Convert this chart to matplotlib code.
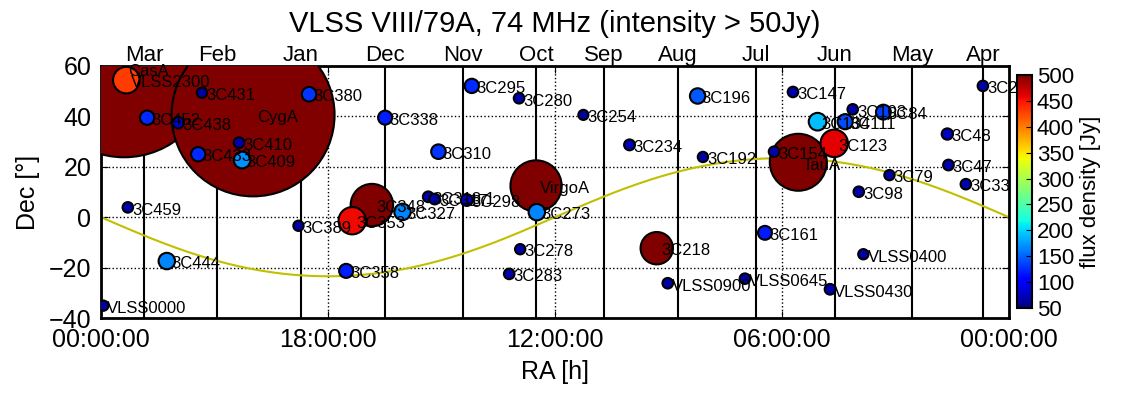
import numpy as np
import matplotlib
matplotlib.use('Agg')
import matplotlib.pyplot as plt
import matplotlib.transforms as mtransforms

plt.rcParams['font.family'] = ['Liberation Sans', 'DejaVu Sans']

# sources above 50 Jy: name, RA [h], Dec [deg], flux density [Jy]
names = ['CasA', 'VLSS2300', 'CygA', '3C431', '3C452', '3C438', '3C410', '3C433',
         '3C409', '3C380', '3C338', '3C459', '3C444', 'VLSS0000', '3C389', '3C353',
         '3C348', '3C358', '3C327', '3C318.1', '3C317', '3C298', '3C295', '3C280',
         '3C254', '3C310', '3C234', '3C192', '3C196', 'VirgoA', '3C273', '3C278',
         '3C283', '3C218', 'VLSS0900', '3C147', '3C103', '3C84', '3C134', '3C111',
         '3C123', '3C154', 'TauA', '3C79', '3C98', '3C48', '3C47', '3C33', '3C20',
         '3C161', 'VLSS0400', 'VLSS0645', 'VLSS0430']
ra_h = [23.39, 23.33, 19.98, 21.33, 22.78, 21.96, 20.35, 21.43,
        20.27, 18.50, 16.49, 23.29, 22.26, 23.94, 18.78, 17.36,
        16.84, 17.52, 16.03, 15.35, 15.18, 14.33, 14.20, 12.95,
        11.25, 15.08, 10.03, 8.09, 8.23, 12.50, 12.48, 12.92,
        13.21, 9.31, 9.02, 5.71, 4.13, 3.32, 5.06, 4.33,
        4.62, 6.21, 5.57, 3.16, 3.97, 1.63, 1.60, 1.14, 0.69,
        6.45, 3.85, 6.98, 4.73]
dec_deg = [58.8, 54.4, 40.6, 49.4, 39.5, 37.5, 29.6, 25.0,
           22.7, 48.8, 39.5, 3.9, -17.4, -35.1, -3.4, -1.4,
           4.8, -21.3, 2.1, 8.1, 7.2, 6.8, 52.1, 47.2,
           40.6, 26.0, 28.7, 23.9, 48.1, 12.4, 2.0, -12.7,
           -22.5, -12.3, -26.2, 49.7, 42.8, 41.7, 37.9, 37.9,
           29.3, 26.0, 21.8, 16.7, 10.1, 33.0, 20.7, 13.1, 52.1,
           -6.2, -14.7, -24.4, -28.6]
flux_jy = [19000, 430, 16200, 65, 125, 80, 70, 125,
           170, 130, 120, 68, 165, 65, 65, 455,
           1100, 120, 165, 70, 70, 85, 125, 68,
           62, 130, 72, 65, 145, 1600, 165, 65,
           68, 640, 68, 68, 68, 135, 190, 140,
           460, 68, 1980, 65, 68, 78, 70, 68, 68,
           118, 65, 68, 70]

# RA of the sun on the first of each month
month_names = ['Mar', 'Feb', 'Jan', 'Dec', 'Nov', 'Oct', 'Sep', 'Aug',
               'Jul', 'Jun', 'May', 'Apr']
month_ra = [22.86, 20.93, 18.71, 16.49, 14.43, 12.50, 10.70, 8.75,
            6.69, 4.60, 2.56, 0.69]

ra_ticks = [24, 18, 12, 6, 0]
ra_ticklabels = ['00:00:00', '18:00:00', '12:00:00', '06:00:00', '00:00:00']
obliquity = 23.44

fig = plt.figure(figsize=(11.27, 3.99), dpi=100)
ax = fig.add_axes([0.0896, 0.203, 0.8057, 0.6316])

# ecliptic
ra_line = np.linspace(0, 24, 300)
dec_ecl = np.degrees(np.arctan(np.tan(np.radians(obliquity))
                               * np.sin(np.radians(ra_line * 15))))
ax.plot(ra_line, dec_ecl, color='#c0c000', lw=1.5, zorder=2)

trans = mtransforms.blended_transform_factory(ax.transData, ax.transAxes)
for m, ra in zip(month_names, month_ra):
    ax.axvline(ra, color='k', lw=1.5, zorder=1)
    ax.text(ra, 1.0, m, transform=trans, ha='center', va='bottom', fontsize=16)

# draw big sources first
order = np.argsort(flux_jy)[::-1]
ra_s = np.array(ra_h)[order]
dec_s = np.array(dec_deg)[order]
flux_s = np.array(flux_jy, dtype=float)[order]
sc = ax.scatter(ra_s, dec_s, s=flux_s * 0.85, c=flux_s, cmap='jet', vmin=50, vmax=500,
                edgecolors='k', linewidths=1.5, zorder=3)
for i in order:
    ax.annotate(names[i], (ra_h[i], dec_deg[i]), xytext=(3, -2),
                textcoords='offset points', ha='left', va='center',
                fontsize=12, zorder=4)

ax.set_xlim(24, 0)
ax.set_ylim(-40, 60)
ax.set_xticks(ra_ticks)
ax.set_xticklabels(ra_ticklabels)
ax.set_yticks(range(-40, 61, 20))
ax.tick_params(direction='in', top=True, right=True, labelsize=18, length=5, pad=7)
ax.grid(True, linestyle=':', color='k', lw=1)
for sp in ax.spines.values():
    sp.set_linewidth(2)

fig.text(0.4925, 1 - 24 / 399, 'VLSS VIII/79A, 74 MHz (intensity > 50Jy)',
         ha='center', va='center', fontsize=21)
fig.text(0.4925, 1 - 372 / 399, 'RA [h]', ha='center', va='center', fontsize=18)
fig.text(28 / 1127, 1 - 192 / 399, 'Dec [°]', ha='center', va='center',
         rotation=90, fontsize=18)

cax = fig.add_axes([0.9024, 0.228, 0.0133, 0.584])
cb = fig.colorbar(sc, cax=cax, ticks=range(50, 501, 50))
cb.set_label('flux density [Jy]', fontsize=16)
cb.ax.tick_params(labelsize=16, direction='in', length=4)
cb.outline.set_linewidth(1.5)

fig.savefig('out.png', dpi=100)
